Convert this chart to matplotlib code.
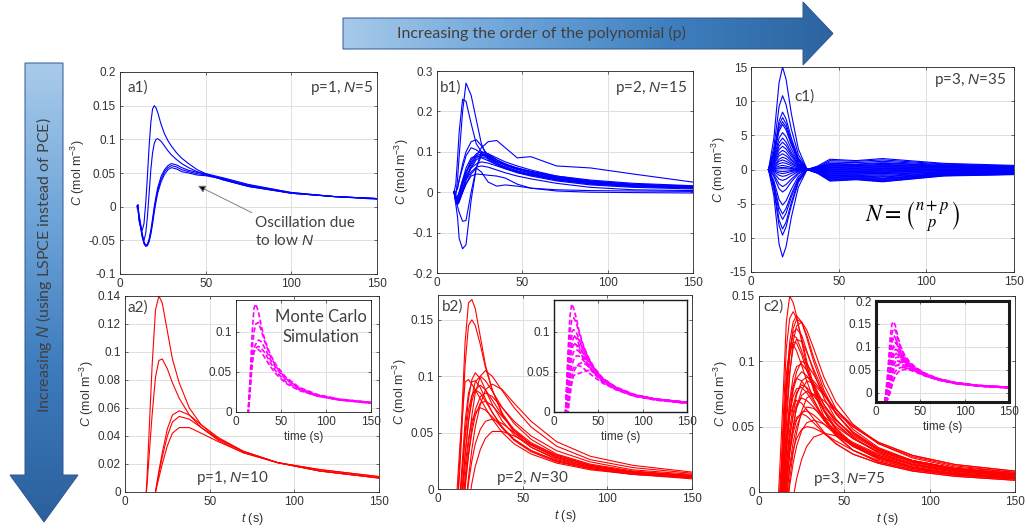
import numpy as np
import matplotlib
matplotlib.use("Agg")
import matplotlib.pyplot as plt
from matplotlib.colors import LinearSegmentedColormap
from matplotlib.patches import Polygon
from matplotlib.ticker import FuncFormatter

W, H = 1026, 530

plt.rcParams.update({
    "font.family": "Liberation Sans",
    "font.size": 8,
    "mathtext.fontset": "custom",
    "mathtext.rm": "Liberation Sans",
    "mathtext.it": "Liberation Sans:italic",
    "axes.linewidth": 0.6,
})

# ---- time grids (s) ----
t_a1 = [10, 10.5, 11, 12, 13, 14, 15, 16, 17, 18, 19, 20, 21, 22, 24, 26, 28, 30, 33, 36,
        40, 45, 50, 60, 75, 100, 125, 150]
t_osc = [10, 11, 12, 13, 15, 17, 20, 23, 26, 30, 35, 40, 47, 55, 70, 90, 115, 150]
t_c1 = [10, 13, 16, 18, 20, 23, 27, 32, 38, 45, 60, 75, 110, 150]
t_red = [10, 13, 16, 18, 20, 22, 25, 28, 32, 38, 45, 55, 70, 90, 115, 150]

# ---- a1) PCE, p=1, N=5 ----
a1_curves = [
    [0.0, 0.002, -0.02, -0.03, -0.035, -0.025, 0.005, 0.045, 0.09, 0.125, 0.145, 0.15, 0.147, 0.14,
     0.122, 0.108, 0.098, 0.09, 0.08, 0.072, 0.064, 0.055, 0.049, 0.04, 0.03, 0.02, 0.015, 0.012],
    [0.0, 0.003, -0.015, -0.03, -0.045, -0.05, -0.04, -0.015, 0.02, 0.055, 0.08, 0.094, 0.1, 0.101,
     0.097, 0.09, 0.083, 0.077, 0.07, 0.064, 0.058, 0.052, 0.048, 0.04, 0.03, 0.02, 0.015, 0.012],
    [0.002, 0.0, -0.01, -0.025, -0.04, -0.052, -0.057, -0.056, -0.048, -0.035, -0.018, 0.0, 0.015, 0.028,
     0.045, 0.055, 0.061, 0.064, 0.062, 0.058, 0.054, 0.051, 0.049, 0.043, 0.033, 0.021, 0.015, 0.012],
    [0.0, -0.002, -0.012, -0.028, -0.043, -0.054, -0.058, -0.057, -0.05, -0.038, -0.022, -0.004, 0.011, 0.024,
     0.041, 0.052, 0.058, 0.061, 0.059, 0.055, 0.052, 0.049, 0.047, 0.042, 0.032, 0.021, 0.015, 0.012],
    [-0.002, -0.005, -0.015, -0.03, -0.045, -0.055, -0.059, -0.058, -0.052, -0.041, -0.026, -0.008, 0.007, 0.02,
     0.037, 0.048, 0.055, 0.058, 0.056, 0.052, 0.05, 0.047, 0.046, 0.041, 0.031, 0.02, 0.015, 0.011],
]

# ---- b1) PCE, p=2, N=15 ----
b1_curves = [
    [0.0, -0.01, 0.03, 0.09, 0.2, 0.27, 0.24, 0.18, 0.12, 0.08, 0.068, 0.06, 0.05, 0.042, 0.03, 0.02, 0.014, 0.01],
    [0.0, 0.02, 0.08, 0.15, 0.23, 0.225, 0.17, 0.12, 0.1, 0.085, 0.07, 0.062, 0.052, 0.045, 0.033, 0.022, 0.016, 0.012],
    [0.0, -0.03, -0.06, -0.115, -0.14, -0.13, -0.02, 0.06, 0.1, 0.095, 0.08, 0.07, 0.058, 0.05, 0.037, 0.026, 0.018, 0.013],
    [0.0, -0.02, -0.035, -0.05, -0.072, -0.07, 0.0, 0.06, 0.09, 0.092, 0.08, 0.068, 0.058, 0.05, 0.036, 0.025, 0.017, 0.012],
    [0.0, 0.0, 0.01, 0.03, 0.07, 0.1, 0.125, 0.13, 0.115, 0.09, 0.075, 0.068, 0.058, 0.05, 0.038, 0.027, 0.019, 0.013],
    [0.0, -0.01, -0.01, 0.0, 0.03, 0.05, 0.07, 0.09, 0.11, 0.125, 0.128, 0.11, 0.085, 0.088, 0.065, 0.06, 0.045, 0.025],
    [0.0, -0.01, -0.02, -0.02, 0.0, 0.02, 0.04, 0.045, 0.044, 0.042, 0.04, 0.035, 0.02, 0.01, 0.003, 0.0, -0.001, -0.002],
    [0.0, -0.02, -0.03, -0.02, 0.0, 0.02, 0.045, 0.06, 0.05, 0.025, 0.015, 0.018, 0.015, 0.01, 0.006, 0.004, 0.003, 0.002],
    [0.0, -0.02, -0.03, -0.02, 0.02, 0.05, 0.08, 0.095, 0.1, 0.095, 0.085, 0.075, 0.065, 0.055, 0.04, 0.028, 0.02, 0.015],
    [0.0, -0.01, -0.02, -0.01, 0.02, 0.045, 0.075, 0.09, 0.095, 0.09, 0.08, 0.07, 0.06, 0.05, 0.036, 0.025, 0.018, 0.013],
    [0.0, -0.015, -0.025, -0.015, 0.01, 0.035, 0.065, 0.085, 0.092, 0.088, 0.076, 0.066, 0.056, 0.047, 0.034, 0.023, 0.016, 0.011],
    [0.0, -0.02, -0.03, -0.025, 0.0, 0.03, 0.06, 0.08, 0.088, 0.083, 0.072, 0.063, 0.053, 0.044, 0.031, 0.021, 0.014, 0.01],
    [0.0, -0.01, -0.015, 0.0, 0.03, 0.06, 0.085, 0.09, 0.085, 0.078, 0.068, 0.058, 0.048, 0.04, 0.028, 0.018, 0.012, 0.008],
    [0.0, -0.02, -0.02, -0.01, 0.02, 0.04, 0.06, 0.07, 0.075, 0.072, 0.065, 0.058, 0.05, 0.043, 0.033, 0.024, 0.017, 0.012],
    [0.0, -0.025, -0.03, -0.02, 0.005, 0.03, 0.05, 0.062, 0.065, 0.062, 0.055, 0.048, 0.04, 0.033, 0.022, 0.012, 0.006, 0.004],
    [0.0, 0.0, 0.01, 0.03, 0.06, 0.09, 0.11, 0.105, 0.095, 0.085, 0.075, 0.068, 0.06, 0.052, 0.04, 0.03, 0.022, 0.016],
]

# ---- c1) PCE, p=3, N=35 ----
c1_curves = [
    [0, 4.5, 12.7, 15.0, 13.2, 8.2, 3.0, 0, 0.5, 1.5, 1.3, 1.6, 0.9, 0.6],
    [0, 3.2, 9.2, 10.8, 9.5, 5.9, 2.2, 0, 0.4, 1.3, 1.2, 1.4, 0.8, 0.5],
    [0, 2.5, 7.1, 8.4, 7.4, 4.6, 1.7, 0, 0.3, 1.1, 1.0, 1.2, 0.7, 0.45],
    [0, 2.3, 6.5, 7.6, 6.7, 4.2, 1.5, 0, 0.3, 0.9, 0.8, 1.0, 0.6, 0.4],
    [0, 2.1, 6.0, 7.0, 6.2, 3.9, 1.4, 0, 0.2, 0.8, 0.7, 0.9, 0.55, 0.35],
    [0, 2.0, 5.6, 6.6, 5.8, 3.6, 1.3, 0, 0.2, 0.7, 0.6, 0.75, 0.5, 0.3],
    [0, 1.6, 4.6, 5.4, 4.8, 3.0, 1.1, 0, 0.15, 0.6, 0.55, 0.65, 0.45, 0.3],
    [0, 1.4, 3.9, 4.6, 4.0, 2.5, 0.9, 0, 0.1, 0.5, 0.45, 0.55, 0.4, 0.25],
    [0, 1.2, 3.4, 4.0, 3.5, 2.2, 0.8, 0, 0.1, 0.4, 0.35, 0.45, 0.3, 0.2],
    [0, 1.0, 2.9, 3.4, 3.0, 1.9, 0.7, 0, 0.05, 0.3, 0.25, 0.35, 0.25, 0.15],
    [0, 0.8, 2.4, 2.8, 2.5, 1.5, 0.6, 0, 0.0, 0.2, 0.15, 0.25, 0.2, 0.1],
    [0, 0.7, 2.0, 2.3, 2.0, 1.3, 0.5, 0, -0.05, 0.1, 0.05, 0.15, 0.1, 0.05],
    [0, 0.5, 1.5, 1.8, 1.6, 1.0, 0.4, 0, -0.05, 0.0, -0.05, 0.05, 0.05, 0.0],
    [0, 0.4, 1.2, 1.4, 1.2, 0.8, 0.3, 0, -0.1, -0.1, -0.1, -0.05, 0.0, -0.05],
    [0, 0.3, 0.85, 1.0, 0.9, 0.55, 0.2, 0, -0.1, -0.2, -0.2, -0.15, -0.1, -0.1],
    [0, 0.2, 0.5, 0.6, 0.5, 0.3, 0.1, 0, -0.15, -0.3, -0.3, -0.25, -0.15, -0.15],
    [0, 0.1, 0.25, 0.3, 0.25, 0.15, 0.05, 0, -0.15, -0.4, -0.35, -0.35, -0.2, -0.2],
    [0, 0.0, 0.1, 0.1, 0.1, 0.05, 0.0, 0, -0.2, -0.5, -0.45, -0.45, -0.3, -0.25],
    [0, -0.1, -0.25, -0.3, -0.25, -0.15, -0.05, 0, -0.2, -0.6, -0.55, -0.6, -0.35, -0.3],
    [0, -0.2, -0.5, -0.6, -0.5, -0.3, -0.1, 0, -0.25, -0.7, -0.65, -0.7, -0.4, -0.35],
    [0, -0.3, -0.85, -1.0, -0.9, -0.55, -0.2, 0, -0.3, -0.8, -0.75, -0.85, -0.5, -0.4],
    [0, -0.5, -1.4, -1.6, -1.4, -0.9, -0.3, 0, -0.3, -0.9, -0.85, -1.0, -0.55, -0.45],
    [0, -0.75, -2.1, -2.5, -2.2, -1.4, -0.5, 0, -0.35, -1.0, -0.95, -1.1, -0.6, -0.5],
    [0, -1.0, -2.8, -3.3, -2.9, -1.8, -0.65, 0, -0.4, -1.1, -1.0, -1.25, -0.65, -0.55],
    [0, -1.6, -4.4, -5.2, -4.6, -2.9, -1.0, 0, -0.4, -1.2, -1.1, -1.35, -0.7, -0.6],
    [0, -2.0, -5.5, -6.5, -5.7, -3.6, -1.3, 0, -0.45, -1.3, -1.2, -1.45, -0.75, -0.6],
    [0, -2.2, -6.2, -7.3, -6.4, -4.0, -1.5, 0, -0.5, -1.4, -1.3, -1.55, -0.8, -0.65],
    [0, -2.6, -7.4, -8.7, -7.7, -4.8, -1.7, 0, -0.5, -1.5, -1.35, -1.65, -0.85, -0.7],
    [0, -2.9, -8.2, -9.6, -8.4, -5.3, -1.9, 0, -0.55, -1.6, -1.4, -1.75, -0.9, -0.7],
    [0, -3.8, -10.9, -12.8, -11.3, -7.0, -2.6, 0, -0.55, -1.7, -1.5, -1.8, -0.95, -0.75],
]

# ---- a2) LSPCE, p=1, N=10 ----
a2_curves = [
    [-0.05, 0.01, 0.09, 0.13, 0.14, 0.135, 0.115, 0.095, 0.078, 0.06, 0.048, 0.038, 0.029, 0.021, 0.016, 0.011],
    [-0.04, 0.005, 0.055, 0.082, 0.094, 0.095, 0.088, 0.078, 0.067, 0.055, 0.046, 0.037, 0.028, 0.021, 0.016, 0.011],
    [-0.06, -0.04, -0.015, 0.0, 0.015, 0.028, 0.045, 0.055, 0.058, 0.055, 0.048, 0.039, 0.029, 0.021, 0.015, 0.010],
    [-0.06, -0.04, -0.015, 0.0, 0.013, 0.025, 0.04, 0.05, 0.054, 0.052, 0.046, 0.038, 0.029, 0.021, 0.015, 0.010],
    [-0.06, -0.04, -0.015, 0.0, 0.01, 0.02, 0.033, 0.042, 0.046, 0.046, 0.042, 0.036, 0.028, 0.021, 0.015, 0.010],
]

# ---- b2) LSPCE, p=2, N=30 ----
b2_curves = [
    [-0.05, 0.03, 0.13, 0.165, 0.168, 0.16, 0.135, 0.11, 0.088, 0.066, 0.05, 0.037, 0.026, 0.019, 0.015, 0.012],
    [-0.05, 0.02, 0.11, 0.145, 0.15, 0.145, 0.128, 0.108, 0.088, 0.067, 0.052, 0.039, 0.028, 0.02, 0.015, 0.012],
    [-0.08, -0.04, 0.01, 0.04, 0.065, 0.085, 0.1, 0.105, 0.1, 0.087, 0.072, 0.055, 0.038, 0.026, 0.019, 0.014],
    [-0.06, -0.01, 0.05, 0.08, 0.097, 0.103, 0.098, 0.088, 0.075, 0.06, 0.048, 0.037, 0.027, 0.019, 0.014, 0.011],
    [-0.07, -0.03, 0.03, 0.06, 0.082, 0.095, 0.1, 0.096, 0.087, 0.072, 0.058, 0.044, 0.031, 0.022, 0.016, 0.012],
    [-0.03, 0.04, 0.095, 0.097, 0.093, 0.088, 0.08, 0.072, 0.062, 0.05, 0.04, 0.031, 0.023, 0.017, 0.013, 0.010],
    [-0.1, -0.06, -0.02, 0.01, 0.035, 0.055, 0.075, 0.088, 0.093, 0.088, 0.076, 0.06, 0.042, 0.029, 0.021, 0.015],
    [-0.07, -0.02, 0.03, 0.06, 0.078, 0.088, 0.092, 0.088, 0.079, 0.065, 0.052, 0.039, 0.028, 0.02, 0.015, 0.011],
    [-0.06, -0.01, 0.045, 0.07, 0.083, 0.088, 0.085, 0.078, 0.068, 0.055, 0.044, 0.034, 0.025, 0.018, 0.013, 0.010],
    [-0.08, -0.04, 0.0, 0.03, 0.055, 0.07, 0.082, 0.085, 0.082, 0.072, 0.06, 0.047, 0.034, 0.024, 0.017, 0.013],
    [-0.08, -0.04, 0.005, 0.03, 0.05, 0.065, 0.076, 0.078, 0.074, 0.064, 0.053, 0.041, 0.03, 0.021, 0.015, 0.011],
    [-0.07, -0.03, 0.02, 0.045, 0.06, 0.068, 0.072, 0.07, 0.064, 0.054, 0.044, 0.034, 0.025, 0.018, 0.013, 0.009],
    [-0.1, -0.06, -0.02, 0.005, 0.025, 0.04, 0.053, 0.06, 0.062, 0.058, 0.05, 0.04, 0.03, 0.021, 0.015, 0.011],
    [-0.1, -0.07, -0.04, -0.015, 0.005, 0.02, 0.035, 0.045, 0.051, 0.051, 0.047, 0.039, 0.029, 0.021, 0.015, 0.011],
    [-0.06, -0.005, 0.06, 0.085, 0.095, 0.096, 0.09, 0.08, 0.068, 0.054, 0.043, 0.033, 0.024, 0.018, 0.014, 0.010],
]

# ---- c2) LSPCE, p=3, N=75 ----
c2_curves = [
    [-0.04, 0.04, 0.13, 0.15, 0.145, 0.135, 0.115, 0.097, 0.078, 0.058, 0.044, 0.032, 0.023, 0.017, 0.013, 0.010],
    [-0.05, 0.02, 0.11, 0.133, 0.138, 0.133, 0.118, 0.1, 0.082, 0.062, 0.047, 0.035, 0.025, 0.018, 0.014, 0.011],
    [-0.06, 0.0, 0.08, 0.115, 0.13, 0.135, 0.13, 0.118, 0.1, 0.078, 0.06, 0.045, 0.032, 0.023, 0.017, 0.013],
    [-0.06, -0.01, 0.07, 0.105, 0.125, 0.132, 0.13, 0.12, 0.103, 0.082, 0.064, 0.048, 0.034, 0.024, 0.018, 0.014],
    [-0.07, -0.02, 0.05, 0.09, 0.115, 0.127, 0.13, 0.124, 0.11, 0.088, 0.069, 0.052, 0.037, 0.026, 0.019, 0.015],
    [-0.06, 0.0, 0.075, 0.108, 0.122, 0.125, 0.12, 0.108, 0.092, 0.072, 0.056, 0.042, 0.03, 0.021, 0.016, 0.012],
    [-0.05, 0.01, 0.085, 0.11, 0.12, 0.118, 0.108, 0.096, 0.081, 0.063, 0.049, 0.037, 0.027, 0.019, 0.014, 0.011],
    [-0.06, -0.01, 0.06, 0.092, 0.11, 0.117, 0.115, 0.107, 0.094, 0.076, 0.06, 0.046, 0.033, 0.024, 0.018, 0.014],
    [-0.05, 0.01, 0.08, 0.105, 0.115, 0.114, 0.105, 0.093, 0.079, 0.062, 0.048, 0.036, 0.026, 0.019, 0.014, 0.011],
    [-0.05, 0.015, 0.09, 0.11, 0.113, 0.108, 0.097, 0.085, 0.071, 0.055, 0.043, 0.032, 0.023, 0.017, 0.013, 0.010],
    [-0.08, -0.03, 0.03, 0.06, 0.08, 0.092, 0.1, 0.098, 0.09, 0.075, 0.06, 0.046, 0.033, 0.024, 0.018, 0.014],
    [-0.07, -0.02, 0.04, 0.07, 0.088, 0.096, 0.098, 0.093, 0.083, 0.067, 0.053, 0.041, 0.03, 0.022, 0.016, 0.012],
    [-0.08, -0.03, 0.03, 0.06, 0.078, 0.087, 0.092, 0.089, 0.081, 0.067, 0.055, 0.043, 0.032, 0.023, 0.017, 0.013],
    [-0.09, -0.04, 0.01, 0.04, 0.06, 0.074, 0.085, 0.088, 0.085, 0.075, 0.063, 0.05, 0.037, 0.027, 0.02, 0.015],
    [-0.07, -0.02, 0.04, 0.068, 0.082, 0.087, 0.085, 0.079, 0.07, 0.057, 0.046, 0.036, 0.027, 0.02, 0.015, 0.011],
    [-0.1, -0.05, 0.0, 0.03, 0.05, 0.065, 0.078, 0.085, 0.083, 0.074, 0.063, 0.051, 0.038, 0.028, 0.021, 0.016],
    [-0.08, -0.03, 0.02, 0.048, 0.066, 0.076, 0.082, 0.08, 0.074, 0.063, 0.052, 0.041, 0.031, 0.023, 0.017, 0.013],
    [-0.07, -0.02, 0.035, 0.06, 0.073, 0.079, 0.08, 0.076, 0.068, 0.056, 0.045, 0.035, 0.026, 0.019, 0.014, 0.011],
    [-0.09, -0.04, 0.005, 0.032, 0.05, 0.064, 0.074, 0.077, 0.074, 0.065, 0.055, 0.044, 0.033, 0.024, 0.018, 0.014],
    [-0.1, -0.06, -0.015, 0.01, 0.03, 0.045, 0.062, 0.072, 0.075, 0.07, 0.061, 0.05, 0.038, 0.028, 0.021, 0.016],
    [-0.08, -0.03, 0.02, 0.044, 0.058, 0.067, 0.072, 0.07, 0.065, 0.055, 0.046, 0.037, 0.028, 0.021, 0.016, 0.012],
    [-0.07, -0.015, 0.04, 0.058, 0.066, 0.07, 0.068, 0.063, 0.056, 0.046, 0.037, 0.029, 0.022, 0.016, 0.012, 0.009],
    [-0.1, -0.05, -0.005, 0.02, 0.038, 0.05, 0.06, 0.065, 0.064, 0.058, 0.05, 0.041, 0.031, 0.023, 0.017, 0.013],
    [-0.09, -0.04, 0.01, 0.03, 0.045, 0.055, 0.061, 0.062, 0.059, 0.052, 0.044, 0.035, 0.026, 0.019, 0.014, 0.011],
    [-0.08, -0.03, 0.015, 0.035, 0.049, 0.057, 0.06, 0.058, 0.053, 0.045, 0.037, 0.029, 0.022, 0.016, 0.012, 0.009],
    [-0.1, -0.06, -0.02, 0.005, 0.022, 0.035, 0.047, 0.053, 0.055, 0.052, 0.046, 0.038, 0.029, 0.021, 0.016, 0.012],
    [-0.09, -0.045, -0.005, 0.018, 0.032, 0.041, 0.048, 0.05, 0.049, 0.045, 0.039, 0.032, 0.024, 0.018, 0.013, 0.010],
    [-0.12, -0.08, -0.04, -0.02, -0.005, 0.01, 0.025, 0.035, 0.042, 0.045, 0.043, 0.037, 0.028, 0.021, 0.015, 0.011],
]

# ---- Monte Carlo reference runs (insets) ----
mc_a2 = [
    [-0.05, -0.01, 0.05, 0.1, 0.13, 0.135, 0.125, 0.108, 0.09, 0.072, 0.058, 0.044, 0.031, 0.022, 0.016, 0.012],
    [-0.05, -0.01, 0.04, 0.08, 0.1, 0.11, 0.112, 0.102, 0.088, 0.07, 0.056, 0.042, 0.03, 0.021, 0.016, 0.012],
    [-0.05, -0.01, 0.04, 0.07, 0.08, 0.085, 0.09, 0.088, 0.08, 0.066, 0.054, 0.041, 0.029, 0.021, 0.015, 0.012],
    [-0.05, -0.01, 0.035, 0.065, 0.078, 0.08, 0.082, 0.08, 0.074, 0.062, 0.05, 0.038, 0.028, 0.02, 0.015, 0.011],
    [-0.05, -0.01, 0.03, 0.06, 0.075, 0.078, 0.078, 0.075, 0.068, 0.057, 0.047, 0.036, 0.027, 0.02, 0.015, 0.011],
]
mc_b2 = [
    [-0.05, 0.0, 0.08, 0.12, 0.135, 0.13, 0.118, 0.103, 0.087, 0.07, 0.056, 0.042, 0.03, 0.021, 0.016, 0.012],
    [-0.05, 0.0, 0.07, 0.1, 0.115, 0.118, 0.112, 0.1, 0.085, 0.069, 0.055, 0.041, 0.03, 0.021, 0.016, 0.012],
    [-0.05, 0.0, 0.06, 0.09, 0.1, 0.103, 0.1, 0.092, 0.08, 0.066, 0.054, 0.041, 0.03, 0.021, 0.016, 0.012],
    [-0.06, -0.01, 0.04, 0.07, 0.085, 0.093, 0.095, 0.09, 0.08, 0.067, 0.055, 0.042, 0.031, 0.022, 0.016, 0.012],
    [-0.06, -0.01, 0.04, 0.065, 0.078, 0.084, 0.085, 0.082, 0.075, 0.064, 0.053, 0.041, 0.03, 0.021, 0.016, 0.012],
    [-0.06, -0.015, 0.03, 0.055, 0.068, 0.075, 0.078, 0.076, 0.07, 0.06, 0.05, 0.039, 0.029, 0.021, 0.016, 0.012],
    [-0.07, -0.02, 0.02, 0.045, 0.058, 0.065, 0.07, 0.07, 0.066, 0.058, 0.049, 0.039, 0.029, 0.021, 0.016, 0.012],
    [-0.07, -0.03, 0.0, 0.02, 0.035, 0.045, 0.048, 0.048, 0.05, 0.052, 0.05, 0.042, 0.031, 0.022, 0.016, 0.012],
    [-0.06, -0.01, 0.05, 0.075, 0.085, 0.087, 0.084, 0.078, 0.069, 0.058, 0.048, 0.037, 0.028, 0.02, 0.015, 0.011],
    [-0.07, -0.02, 0.02, 0.04, 0.05, 0.055, 0.058, 0.058, 0.056, 0.05, 0.044, 0.036, 0.028, 0.02, 0.015, 0.011],
    [-0.05, 0.0, 0.06, 0.085, 0.095, 0.097, 0.092, 0.085, 0.074, 0.061, 0.05, 0.038, 0.028, 0.02, 0.015, 0.011],
    [-0.07, -0.025, 0.01, 0.03, 0.042, 0.05, 0.056, 0.06, 0.062, 0.058, 0.05, 0.04, 0.03, 0.021, 0.016, 0.012],
]
mc_c2 = [
    [-0.02, 0.04, 0.12, 0.15, 0.155, 0.145, 0.12, 0.1, 0.083, 0.067, 0.055, 0.043, 0.031, 0.022, 0.016, 0.012],
    [-0.02, 0.03, 0.1, 0.13, 0.14, 0.135, 0.115, 0.097, 0.08, 0.065, 0.054, 0.042, 0.031, 0.022, 0.016, 0.012],
    [-0.02, 0.02, 0.08, 0.11, 0.12, 0.118, 0.105, 0.09, 0.076, 0.063, 0.053, 0.041, 0.03, 0.022, 0.016, 0.012],
    [-0.02, 0.01, 0.06, 0.09, 0.105, 0.11, 0.1, 0.088, 0.075, 0.062, 0.052, 0.041, 0.03, 0.022, 0.016, 0.012],
    [-0.02, 0.0, 0.05, 0.075, 0.09, 0.095, 0.092, 0.083, 0.072, 0.06, 0.051, 0.04, 0.03, 0.021, 0.016, 0.012],
    [-0.02, 0.0, 0.04, 0.065, 0.08, 0.085, 0.085, 0.078, 0.069, 0.059, 0.05, 0.04, 0.03, 0.021, 0.016, 0.012],
    [-0.02, -0.005, 0.03, 0.055, 0.07, 0.076, 0.078, 0.074, 0.066, 0.058, 0.05, 0.04, 0.03, 0.021, 0.016, 0.012],
    [-0.02, -0.01, 0.02, 0.045, 0.06, 0.067, 0.07, 0.068, 0.063, 0.056, 0.049, 0.039, 0.029, 0.021, 0.015, 0.012],
    [-0.02, -0.01, 0.015, 0.035, 0.05, 0.058, 0.062, 0.062, 0.059, 0.054, 0.048, 0.039, 0.029, 0.021, 0.015, 0.011],
    [-0.02, -0.015, 0.005, 0.025, 0.038, 0.047, 0.053, 0.055, 0.055, 0.052, 0.047, 0.038, 0.029, 0.021, 0.015, 0.011],
    [-0.02, -0.015, 0.0, 0.015, 0.028, 0.037, 0.045, 0.049, 0.051, 0.05, 0.046, 0.038, 0.029, 0.021, 0.015, 0.011],
    [-0.02, 0.02, 0.09, 0.115, 0.125, 0.12, 0.1, 0.085, 0.071, 0.058, 0.048, 0.038, 0.028, 0.02, 0.015, 0.011],
    [-0.02, 0.01, 0.07, 0.095, 0.1, 0.098, 0.09, 0.08, 0.069, 0.058, 0.049, 0.039, 0.029, 0.021, 0.015, 0.011],
    [-0.02, 0.0, 0.055, 0.08, 0.088, 0.087, 0.082, 0.074, 0.065, 0.056, 0.048, 0.038, 0.029, 0.021, 0.015, 0.011],
    [-0.02, -0.005, 0.04, 0.06, 0.068, 0.07, 0.069, 0.065, 0.06, 0.053, 0.047, 0.038, 0.029, 0.021, 0.015, 0.011],
    [-0.02, -0.01, 0.025, 0.045, 0.055, 0.059, 0.06, 0.058, 0.055, 0.05, 0.045, 0.037, 0.028, 0.02, 0.015, 0.011],
]

BLUE, RED, MAGENTA = "#0000ff", "#ff0000", "#ff00ff"
TXT = "#404040"
TICK = "#333333"
LABEL_FONT = "Lato"


def rect(l, t, r, b):
    """Pixel box (left, top, right, bottom) -> figure fraction rect."""
    return [l / W, 1 - b / H, (r - l) / W, (b - t) / H]


def num(v, _):
    s = f"{round(v, 6):g}"
    return "0" if s == "-0" else s


def style(ax, ylim, yticks, ylabel=True, xlabel=None, fs=8.5):
    ax.set_xlim(0, 150)
    ax.set_xticks([0, 50, 100, 150])
    ax.set_ylim(*ylim)
    ax.set_yticks(yticks)
    ax.xaxis.set_major_formatter(FuncFormatter(num))
    ax.yaxis.set_major_formatter(FuncFormatter(num))
    ax.grid(True, color="#e0e0e0", lw=0.7)
    ax.set_axisbelow(True)
    ax.tick_params(direction="in", length=2.5, width=0.5, colors=TICK,
                   labelsize=fs, top=True, right=True, pad=3)
    for s in ax.spines.values():
        s.set_color("#262626")
    if ylabel:
        ax.set_ylabel(r"$C$ (mol m$^{-3}$)", color=TICK, fontsize=9, labelpad=1)
    if xlabel:
        ax.set_xlabel(xlabel, color=TICK, fontsize=9, labelpad=2)


def ftext(x, y, s, **kw):
    kw.setdefault("color", TXT)
    kw.setdefault("fontsize", 11)
    kw.setdefault("family", LABEL_FONT)
    kw.setdefault("va", "center")
    fig.text(x / W, 1 - y / H, s, **kw)


fig = plt.figure(figsize=(W / 100, H / 100), dpi=100)

# top row: PCE
ax = fig.add_axes(rect(120, 72, 377, 274))
for c in a1_curves:
    ax.plot(t_a1, c, color=BLUE, lw=0.8)
style(ax, (-0.1, 0.2), np.arange(-0.1, 0.201, 0.05))
ax.annotate("", xy=(45.5, 0.031), xytext=(77, -0.009),
            arrowprops=dict(arrowstyle="-|>,head_length=0.55,head_width=0.28",
                            ec="#808080", fc="black", lw=0.7, shrinkA=0, shrinkB=0))
ftext(255, 232, "Oscillation due\nto low $N$", ha="left", linespacing=1.25)
ftext(128, 88, "a1)", ha="left")
ftext(373, 88, "p=1, $N$=5", ha="right")

ax = fig.add_axes(rect(437, 71, 693, 273))
for c in b1_curves:
    ax.plot(t_osc, c, color=BLUE, lw=0.8)
style(ax, (-0.2, 0.3), np.arange(-0.2, 0.301, 0.1))
ftext(440, 88, "b1)", ha="left")
ftext(687, 88, "p=2, $N$=15", ha="right")

ax = fig.add_axes(rect(751, 67, 1014, 272))
for c in c1_curves:
    ax.plot(t_c1, c, color=BLUE, lw=0.8)
style(ax, (-15, 15), np.arange(-15, 16, 5))
ftext(794, 97, "c1)", ha="left")
ftext(1006, 80, "p=3, $N$=35", ha="right")
ftext(913, 217, r"$N=\binom{n+p}{p}$", ha="center", fontsize=17,
      color="black", math_fontfamily="stix")

# bottom row: LSPCE with Monte Carlo insets
ax = fig.add_axes(rect(125, 296, 379, 492))
for c in a2_curves:
    ax.plot(t_red, c, color=RED, lw=0.8)
style(ax, (0, 0.14), np.arange(0, 0.141, 0.02), xlabel="$t$ (s)")
ftext(127, 308, "a2)", ha="left")
ftext(196, 478, "p=1, $N$=10", ha="left")

ax = fig.add_axes(rect(438, 295, 692, 489))
for c in b2_curves:
    ax.plot(t_red, c, color=RED, lw=0.8)
style(ax, (0, 0.172), [0, 0.05, 0.1, 0.15], xlabel="$t$ (s)")
ftext(442, 307, "b2)", ha="left")
ftext(496, 478, "p=2, $N$=30", ha="left")

ax = fig.add_axes(rect(759, 296, 1015, 492))
for c in c2_curves:
    ax.plot(t_red, c, color=RED, lw=0.8)
style(ax, (0, 0.15), [0, 0.05, 0.1, 0.15], xlabel="$t$ (s)")
ftext(763, 307, "c2)", ha="left")
ftext(813, 479, "p=3, $N$=75", ha="left")

insets = [
    ((236, 300, 371, 412), mc_a2, (0, 0.14), [0, 0.05, 0.1], 0.6),
    ((554, 300, 687, 412), mc_b2, (0, 0.14), [0, 0.05, 0.1], 1.0),
    ((876, 301, 1009, 402), mc_c2, (-0.02, 0.2), [0, 0.05, 0.1, 0.15, 0.2], 2.2),
]
for box, runs, ylim, yt, bw in insets:
    ax = fig.add_axes(rect(*box))
    ax.set_facecolor("white")
    for c in runs:
        ax.plot(t_red, c, color=MAGENTA, lw=1.2, ls=(0, (3, 1.5)))
    style(ax, ylim, yt, ylabel=False, xlabel="time (s)")
    ax.xaxis.label.set_fontsize(8.5)
    for s in ax.spines.values():
        s.set_linewidth(bw)
        s.set_color("#1a1a1a")
ftext(321, 327, "Monte Carlo\nSimulation", ha="center", fontsize=12, linespacing=1.3)

# gradient arrows
ov = fig.add_axes([0, 0, 1, 1], zorder=20)
ov.axis("off")


def grad_arrow(pts, colors, horizontal):
    poly = Polygon(pts, closed=True, fc="none", ec="#2f5597", lw=0.7, zorder=2)
    ov.add_patch(poly)
    xs = [p[0] for p in pts]
    ys = [p[1] for p in pts]
    g = np.linspace(0, 1, 256)
    img = g[None, :] if horizontal else g[:, None]
    cmap = LinearSegmentedColormap.from_list("arrow", colors)
    im = ov.imshow(img, cmap=cmap, extent=(min(xs), max(xs), max(ys), min(ys)),
                   aspect="auto", zorder=1, interpolation="bilinear")
    im.set_clip_path(poly)


grad_arrow([(343, 18), (803, 18), (803, 2), (833, 33.5), (803, 65), (803, 49), (343, 49)],
           ["#a6c9ea", "#6fa6da", "#3f7fbf", "#2c64a0"], True)
grad_arrow([(25, 63), (63, 63), (63, 475), (78, 475), (44, 522), (10, 475), (25, 475)],
           ["#a9cbeb", "#6fa5d9", "#3d7bbd", "#2b609c"], False)
ov.set_xlim(0, W)
ov.set_ylim(H, 0)
ov.text(541, 33, "Increasing the order of the polynomial (p)", ha="center", va="center",
        fontsize=11.5, color=TXT, family=LABEL_FONT, zorder=3)
ov.text(44, 265, "Increasing $N$ (using LSPCE instead of PCE)", ha="center", va="center",
        rotation=90, fontsize=11.5, color=TXT, family=LABEL_FONT, zorder=3)

fig.savefig("out.png", dpi=100)
